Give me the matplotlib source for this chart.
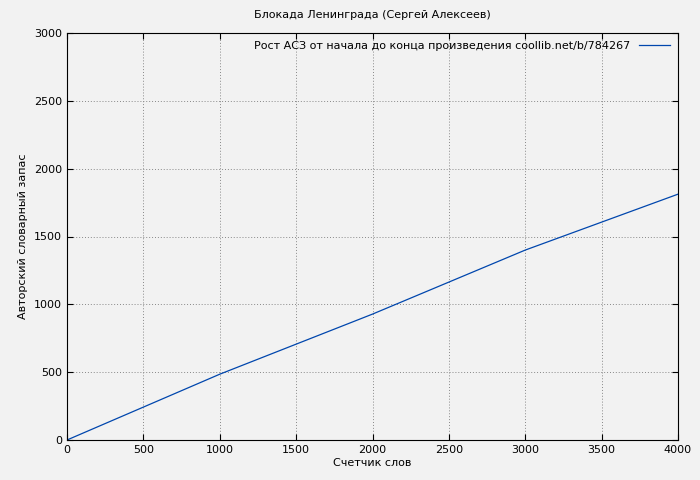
import matplotlib
matplotlib.use("Agg")
import matplotlib.pyplot as plt

words = [0, 1000, 2000, 3000, 4000]
vocab = [0, 485, 928, 1400, 1812]
xticks = [0, 500, 1000, 1500, 2000, 2500, 3000, 3500, 4000]
yticks = [0, 500, 1000, 1500, 2000, 2500, 3000]

fig = plt.figure(figsize=(7, 4.8), dpi=100, facecolor="#f2f2f2")
ax = fig.add_axes([67/700, 40/480, 611/700, 407/480], facecolor="#f2f2f2")
ax.plot(words, vocab, color="#0046ad", lw=0.9,
        label="Рост АСЗ от начала до конца произведения coollib.net/b/784267")
ax.set_xlim(0, 4000)
ax.set_ylim(0, 3000)
ax.set_xticks(xticks)
ax.set_yticks(yticks)
ax.tick_params(labelsize=8, direction="in", length=4, top=True, right=True)
ax.grid(True, color="#888888", linestyle=(0, (1, 2)), lw=0.7)
for s in ax.spines.values():
    s.set_linewidth(0.8)
ax.set_xlabel("Счетчик слов", fontsize=8, labelpad=2)
ax.set_ylabel("Авторский словарный запас", fontsize=8)
ax.set_title("Блокада Ленинграда (Сергей Алексеев)", fontsize=8, pad=11)
leg = ax.legend(loc="upper right", fontsize=8, frameon=False, markerfirst=False,
                handlelength=2.8, borderaxespad=0.3)
fig.savefig("out.png", dpi=100, facecolor="#f2f2f2")
